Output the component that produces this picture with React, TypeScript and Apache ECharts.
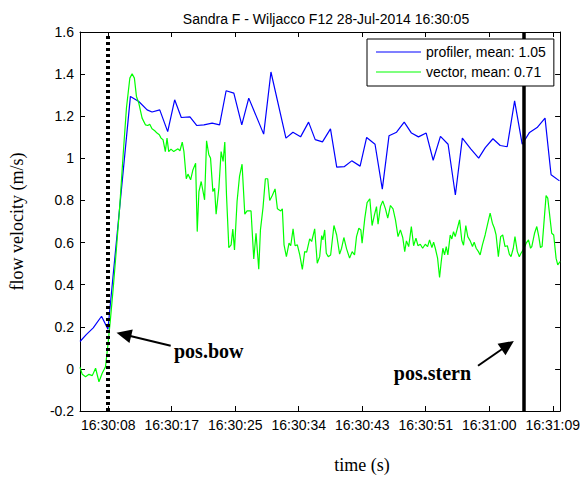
import React, { useEffect, useRef } from 'react';
import * as echarts from 'echarts';

// ---------- data (seconds after 16:30:00, velocity m/s) ----------
const profilerT = [4.8, 5.65, 6.6, 7.73, 8.6, 11.66, 12.8, 13.93, 14.6, 15.65, 16.73, 17.68, 18.58, 19.76, 20.67, 21.66, 22.78, 23.79, 24.68, 25.73, 26.81, 27.76, 29.79, 30.78, 32.82, 33.77, 34.81, 35.9, 36.8, 37.79, 38.88, 39.73, 40.78, 41.77, 42.91, 43.8, 44.94, 45.93, 46.84, 47.87, 48.91, 49.9, 50.85, 51.9, 52.85, 53.84, 54.88, 55.87, 56.82, 57.96, 59.04, 59.94, 60.98, 61.97, 62.92, 63.93, 64.96, 65.96, 66.99, 68.07, 68.89, 70.03];
const profilerV = [0.13, 0.163, 0.195, 0.25, 0.188, 1.294, 1.27, 1.23, 1.22, 1.23, 1.127, 1.278, 1.194, 1.197, 1.156, 1.159, 1.167, 1.159, 1.321, 1.31, 1.159, 1.286, 1.115, 1.41, 1.096, 1.124, 1.102, 1.172, 1.089, 1.078, 1.14, 0.958, 0.961, 0.988, 0.963, 1.099, 1.067, 0.854, 1.107, 1.124, 1.172, 1.12, 1.102, 1.12, 0.991, 1.104, 1.067, 0.826, 1.096, 1.045, 1.001, 1.051, 1.093, 1.061, 1.055, 1.273, 1.067, 1.123, 1.146, 1.191, 0.922, 0.893];

const vectorT = [4.8, 5.11, 5.56, 6.02, 6.47, 6.92, 7.38, 7.82, 8.27, 8.6, 8.95, 9.32, 9.76, 10.22, 10.67, 11.12, 11.58, 11.89, 12.2, 12.48, 12.8, 13.25, 13.7, 14.02, 14.29, 14.6, 14.97, 15.28, 15.59, 15.83, 16.1, 16.41, 16.64, 16.87, 17.18, 17.55, 18.13, 18.4, 18.71, 18.94, 19.26, 19.49, 19.85, 20.16, 20.53, 20.75, 20.98, 21.29, 21.75, 22.02, 22.33, 22.56, 22.88, 23.11, 23.32, 23.69, 24.0, 24.27, 24.5, 24.73, 25.05, 25.36, 25.59, 25.82, 26.17, 26.5, 26.85, 27.22, 27.53, 28.07, 28.44, 28.75, 29.12, 29.35, 29.7, 30.02, 30.34, 30.61, 30.98, 31.34, 31.66, 32.11, 32.33, 32.56, 32.88, 33.24, 33.47, 33.79, 34.06, 34.37, 34.7, 35.05, 35.37, 35.64, 36.05, 36.32, 36.73, 37.08, 37.41, 37.68, 37.85, 38.09, 38.31, 38.58, 38.9, 39.35, 39.72, 40.12, 40.39, 40.7, 41.07, 41.48, 41.83, 42.15, 42.42, 42.74, 43.01, 43.18, 43.55, 43.86, 44.23, 44.54, 44.86, 45.14, 45.35, 45.68, 45.99, 46.36, 46.67, 47.04, 47.39, 47.72, 48.07, 48.39, 48.71, 48.98, 49.21, 49.52, 49.88, 50.19, 50.51, 50.78, 51.1, 51.42, 51.78, 52.09, 52.36, 52.68, 52.91, 53.14, 53.45, 53.72, 53.95, 54.17, 54.4, 54.63, 54.85, 55.17, 55.39, 55.62, 55.85, 56.17, 56.44, 56.75, 56.98, 57.29, 57.56, 57.89, 58.2, 58.43, 58.7, 59.01, 59.24, 59.55, 59.92, 60.23, 60.6, 60.91, 61.18, 61.41, 61.72, 62.03, 62.31, 62.63, 62.94, 63.21, 63.44, 63.75, 63.98, 64.3, 64.57, 64.8, 65.18, 65.5, 65.82, 66.1, 66.27, 66.64, 66.95, 67.22, 67.45, 67.67, 67.9, 68.21, 68.44, 68.67, 68.98, 69.25, 69.57, 69.8, 70.12];
const vectorV = [0.008, -0.026, -0.037, -0.026, -0.032, 0.003, -0.061, -0.021, 0.01, 0.114, 0.24, 0.383, 0.573, 0.779, 1.017, 1.239, 1.381, 1.402, 1.381, 1.294, 1.262, 1.191, 1.159, 1.156, 1.162, 1.14, 1.131, 1.12, 1.112, 1.096, 1.088, 1.032, 1.096, 1.032, 1.044, 1.032, 1.045, 1.036, 1.077, 1.032, 0.903, 0.925, 0.898, 0.945, 0.977, 0.652, 0.842, 0.89, 0.803, 1.083, 1.017, 1.001, 0.842, 0.858, 0.735, 0.858, 1.032, 0.985, 1.077, 0.827, 0.576, 0.589, 0.664, 0.565, 0.795, 0.914, 0.972, 0.735, 0.75, 0.75, 0.522, 0.644, 0.473, 0.66, 0.766, 0.903, 0.903, 0.8, 0.825, 0.855, 0.76, 0.75, 0.76, 0.589, 0.533, 0.597, 0.585, 0.665, 0.585, 0.589, 0.541, 0.473, 0.557, 0.554, 0.617, 0.605, 0.665, 0.502, 0.533, 0.633, 0.613, 0.66, 0.549, 0.533, 0.541, 0.681, 0.636, 0.545, 0.573, 0.624, 0.57, 0.526, 0.557, 0.541, 0.628, 0.668, 0.66, 0.597, 0.716, 0.79, 0.808, 0.681, 0.731, 0.771, 0.687, 0.771, 0.798, 0.76, 0.716, 0.776, 0.76, 0.708, 0.628, 0.66, 0.624, 0.557, 0.608, 0.581, 0.676, 0.585, 0.621, 0.585, 0.592, 0.573, 0.592, 0.581, 0.613, 0.576, 0.602, 0.573, 0.526, 0.434, 0.51, 0.573, 0.541, 0.581, 0.541, 0.636, 0.617, 0.652, 0.628, 0.671, 0.708, 0.61, 0.587, 0.681, 0.628, 0.608, 0.581, 0.602, 0.573, 0.557, 0.541, 0.589, 0.636, 0.684, 0.74, 0.692, 0.668, 0.636, 0.533, 0.628, 0.636, 0.581, 0.585, 0.545, 0.533, 0.573, 0.628, 0.557, 0.533, 0.549, 0.57, 0.597, 0.613, 0.573, 0.581, 0.644, 0.676, 0.628, 0.576, 0.581, 0.684, 0.823, 0.811, 0.74, 0.644, 0.636, 0.526, 0.494, 0.51];

const seriesNames = ['profiler, mean: 1.05', 'vector, mean: 0.71'];
const xTickValues = [8.64, 17.28, 25.92, 34.56, 43.2, 51.84, 60.48, 69.12];
const xTickLabels = ['16:30:08', '16:30:17', '16:30:25', '16:30:34', '16:30:43', '16:30:51', '16:31:00', '16:31:09'];
const xMin = 4.8;
const xMax = 70.12;
const yMin = -0.2;
const yMax = 1.6;
const yStep = 0.2;

const titleText = 'Sandra F - Wiljacco F12 28-Jul-2014 16:30:05';
const yAxisTitle = 'flow velocity (m/s)';
const xAxisTitle = 'time (s)';

// event markers (time in s)
const bowT = 8.64;
const sternT = 65.15;
const bowLabel = 'pos.bow';
const sternLabel = 'pos.stern';
// annotation anchor points [t, v]
const bowArrowTail = [17.14, 0.11];
const bowArrowTip = [9.77, 0.172];
const bowLabelAt = [17.59, 0.087];
const sternArrowTail = [58.95, 0.015];
const sternArrowTip = [63.83, 0.133];
const sternLabelAt = [58.0, -0.02];

const SANS = '"Liberation Sans", Arial, sans-serif';
const SERIF = '"Liberation Serif", "Times New Roman", serif';

function zip(a: number[], b: number[]) {
  return a.map((v, i) => [v, b[i]]);
}

function arrow(tail: number[], tip: number[]) {
  const dx = tip[0] - tail[0];
  const dy = tip[1] - tail[1];
  const len = Math.hypot(dx, dy);
  const ux = dx / len, uy = dy / len;
  const nx = -uy, ny = ux;
  const L = 15, W = 7;
  const bx = tip[0] - ux * L, by = tip[1] - uy * L;
  return [
    { type: 'line', silent: true, shape: { x1: tail[0], y1: tail[1], x2: bx + ux * 3, y2: by + uy * 3 }, style: { stroke: '#000', lineWidth: 2 } },
    { type: 'polygon', silent: true, shape: { points: [[tip[0], tip[1]], [bx + nx * W, by + ny * W], [bx - nx * W, by - ny * W]] }, style: { fill: '#000' } },
  ];
}

export default function App() {
  const ref = useRef<HTMLDivElement>(null);
  useEffect(() => {
    if (!ref.current) return;
    const chart = echarts.init(ref.current, null, { renderer: 'svg' });
    const axisLine = { show: true, onZero: false, lineStyle: { color: '#000', width: 1 } };
    const tickFmt = (val: number) => {
      let best = 0;
      xTickValues.forEach((t, i) => { if (Math.abs(t - val) < Math.abs(xTickValues[best] - val)) best = i; });
      return xTickLabels[best];
    };
    chart.setOption({
      animation: false,
      backgroundColor: '#fff',
      title: {
        text: titleText,
        left: 321,
        textAlign: 'center',
        top: 7,
        textStyle: { fontFamily: SANS, fontSize: 14, fontWeight: 'normal', color: '#000' },
      },
      grid: { left: 80, right: 21, top: 32, bottom: 66, containLabel: false },
      legend: {
        data: seriesNames,
        orient: 'vertical',
        left: 367,
        top: 39,
        padding: [6, 8, 7, 9],
        itemGap: 6,
        icon: 'rect',
        itemWidth: 45,
        itemHeight: 1.2,
        backgroundColor: '#fff',
        borderColor: '#000',
        borderWidth: 1,
        borderRadius: 0,
        selectedMode: false,
        z: 10,
        textStyle: { fontFamily: SANS, fontSize: 14, color: '#000', lineHeight: 14 },
      },
      xAxis: [
        {
          type: 'value', position: 'bottom', min: xMin, max: xMax,
          axisLine,
          axisTick: { show: true, inside: true, length: 5, customValues: xTickValues, lineStyle: { color: '#000' } },
          axisLabel: { show: true, customValues: xTickValues, formatter: tickFmt, color: '#000', fontFamily: SANS, fontSize: 14, margin: 7 },
          splitLine: { show: false },
        },
        {
          type: 'value', position: 'top', min: xMin, max: xMax,
          axisLine,
          axisTick: { show: true, inside: true, length: 5, customValues: xTickValues, lineStyle: { color: '#000' } },
          axisLabel: { show: false },
          splitLine: { show: false },
        },
      ],
      yAxis: [
        {
          type: 'value', position: 'left', min: yMin, max: yMax, interval: yStep,
          axisLine,
          axisTick: { show: true, inside: true, length: 5, lineStyle: { color: '#000' } },
          axisLabel: { color: '#000', fontFamily: SANS, fontSize: 14, margin: 6 },
          splitLine: { show: false },
          name: yAxisTitle,
          nameLocation: 'middle',
          nameGap: 54,
          nameTextStyle: { fontFamily: SERIF, fontSize: 18, color: '#000' },
        },
        {
          type: 'value', position: 'right', min: yMin, max: yMax, interval: yStep,
          axisLine,
          axisTick: { show: true, inside: true, length: 5, lineStyle: { color: '#000' } },
          axisLabel: { show: false },
          splitLine: { show: false },
        },
      ],
      series: [
        {
          type: 'line', name: seriesNames[0], data: zip(profilerT, profilerV),
          symbol: 'none', z: 2,
          lineStyle: { color: '#0000ff', width: 1.2 },
          itemStyle: { color: '#0000ff' },
        },
        {
          type: 'line', name: seriesNames[1], data: zip(vectorT, vectorV),
          symbol: 'none', z: 3,
          lineStyle: { color: '#00ff00', width: 1.2 },
          itemStyle: { color: '#00ff00' },
          markLine: {
            silent: true,
            symbol: ['none', 'none'],
            label: { show: false },
            animation: false,
            data: [
              { xAxis: bowT, lineStyle: { color: '#000', width: 4, type: [3, 3], cap: 'butt' } },
              { xAxis: sternT, lineStyle: { color: '#000', width: 3.5, type: 'solid' } },
            ],
          },
        },
      ],
    });

    const px = (p: number[]) => chart.convertToPixel({ xAxisIndex: 0, yAxisIndex: 0 }, p) as number[];
    const bowLbl = px(bowLabelAt);
    const sternLbl = px(sternLabelAt);
    chart.setOption({
      graphic: [
        ...arrow(px(bowArrowTail), px(bowArrowTip)),
        ...arrow(px(sternArrowTail), px(sternArrowTip)),
        { type: 'text', silent: true, style: { text: bowLabel, x: bowLbl[0], y: bowLbl[1], font: 'bold 20px ' + SERIF, fill: '#000', align: 'left', verticalAlign: 'middle' } },
        { type: 'text', silent: true, style: { text: sternLabel, x: sternLbl[0], y: sternLbl[1], font: 'bold 20px ' + SERIF, fill: '#000', align: 'right', verticalAlign: 'middle' } },
        { type: 'text', silent: true, style: { text: xAxisTitle, x: 362, y: 465, font: '18px ' + SERIF, fill: '#000', align: 'center', verticalAlign: 'middle' } },
      ],
    });
    return () => chart.dispose();
  }, []);
  return <div ref={ref} style={{ position: 'fixed', left: 0, top: 0, width: 583, height: 477, background: '#fff' }} />;
}
